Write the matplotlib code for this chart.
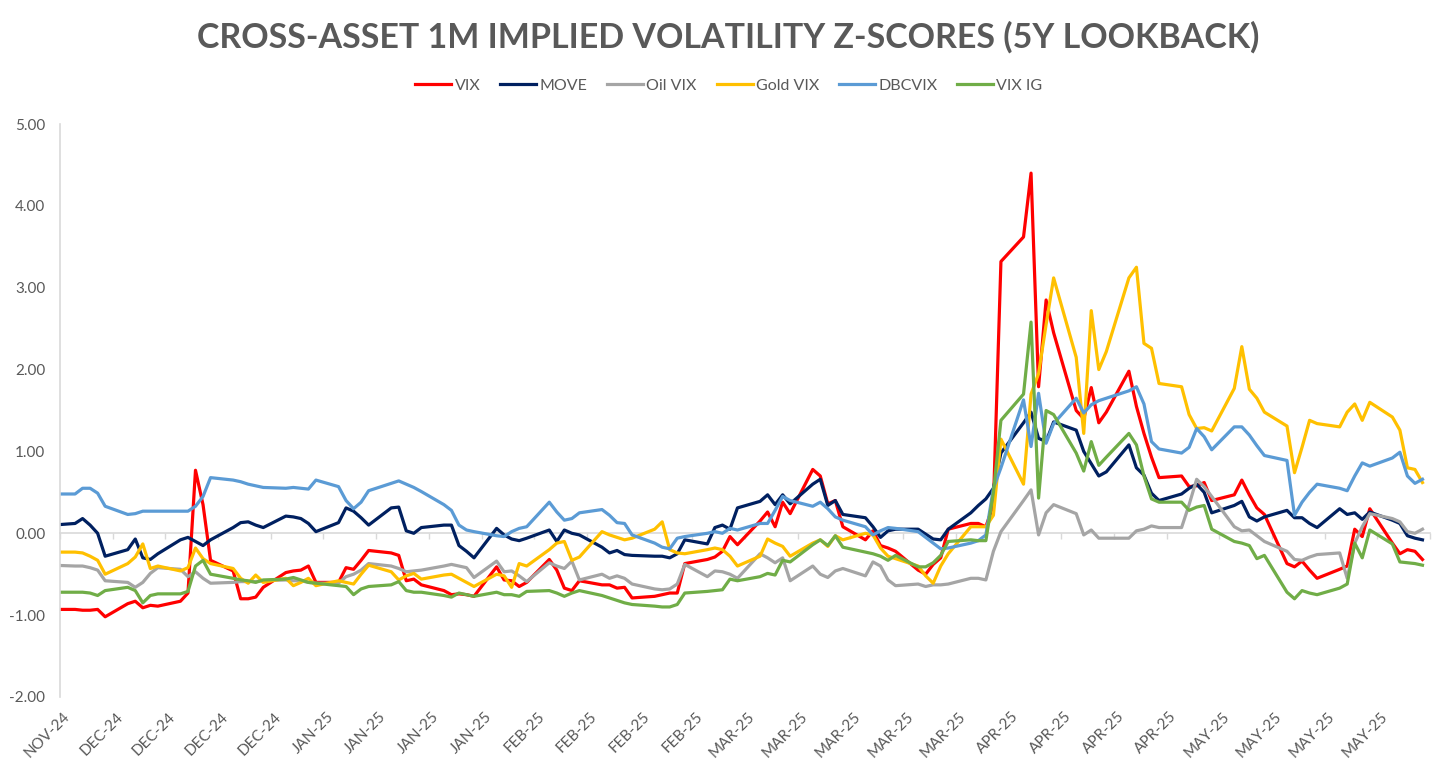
import matplotlib
matplotlib.use('Agg')
import matplotlib.pyplot as plt
import matplotlib.transforms as mtransforms
import numpy as np
import pandas as pd

# weekday observations, 29 Nov 2024 to 30 May 2025 (one list entry per weekday)
dates = pd.bdate_range('2024-11-29', '2025-05-30')

# x axis: weekly marks starting Saturday 30 Nov
tick_dates = pd.date_range('2024-11-30', periods=27, freq='7D')
tick_labels = (['NOV-24'] + ['DEC-24'] * 4 + ['JAN-25'] * 4 + ['FEB-25'] * 4
               + ['MAR-25'] * 5 + ['APR-25'] * 4 + ['MAY-25'] * 4 + [''])

vix = [-0.93,
       -0.93, -0.94, -0.94, -0.93, -1.02,
       -0.86, -0.83, -0.91, -0.88, -0.89,
       -0.83, -0.73, 0.77, 0.35, -0.33,
       -0.46, -0.80, -0.80, -0.78, -0.66,
       -0.48, -0.46, -0.45, -0.40, -0.60,
       -0.60, -0.42, -0.44, -0.33, -0.21,
       -0.24, -0.27, -0.58, -0.56, -0.63,
       -0.70, -0.75, -0.74, -0.75, -0.77,
       -0.41, -0.57, -0.58, -0.65, -0.60,
       -0.32, -0.45, -0.67, -0.70, -0.58,
       -0.63, -0.63, -0.67, -0.66, -0.79,
       -0.77, -0.75, -0.73, -0.73, -0.37,
       -0.32, -0.29, -0.22, -0.04, -0.14,
       0.15, 0.26, 0.08, 0.38, 0.24,
       0.78, 0.70, 0.36, 0.40, 0.08,
       -0.08, 0.03, -0.15, -0.18, -0.22,
       -0.45, -0.50, -0.38, -0.30, 0.05,
       0.12, 0.12, 0.08, 0.35, 3.32,
       3.62, 4.40, 1.79, 2.85, 2.45,
       1.50, 1.40, 1.78, 1.35, 1.48,
       1.98, 1.55, 1.22, 0.93, 0.68,
       0.70, 0.57, 0.58, 0.62, 0.40,
       0.47, 0.65, 0.47, 0.31, 0.23,
       -0.37, -0.41, -0.34, -0.45, -0.55,
       -0.44, -0.40, 0.05, -0.04, 0.30,
       -0.12, -0.25, -0.20, -0.22, -0.32]

move = [0.10,
        0.12, 0.18, 0.10, 0.00, -0.28,
        -0.20, -0.07, -0.30, -0.32, -0.25,
        -0.08, -0.05, -0.10, -0.15, -0.08,
        0.07, 0.13, 0.14, 0.10, 0.07,
        0.21, 0.20, 0.18, 0.12, 0.02,
        0.13, 0.31, 0.27, 0.19, 0.10,
        0.31, 0.32, 0.03, 0.00, 0.07,
        0.10, 0.10, -0.15, -0.22, -0.30,
        0.06, -0.02, -0.07, -0.09, -0.06,
        0.04, -0.10, 0.04, 0.00, -0.02,
        -0.17, -0.24, -0.21, -0.26, -0.27,
        -0.28, -0.28, -0.30, -0.25, -0.08,
        -0.13, 0.07, 0.10, 0.05, 0.31,
        0.39, 0.47, 0.35, 0.47, 0.36,
        0.60, 0.66, 0.34, 0.40, 0.23,
        0.19, 0.08, -0.05, 0.03, 0.05,
        0.05, -0.01, -0.07, -0.08, 0.05,
        0.25, 0.34, 0.42, 0.55, 0.98,
        1.35, 1.48, 1.16, 1.12, 1.36,
        1.26, 1.00, 0.85, 0.70, 0.75,
        1.08, 0.80, 0.71, 0.49, 0.40,
        0.48, 0.55, 0.60, 0.50, 0.25,
        0.34, 0.39, 0.20, 0.15, 0.20,
        0.28, 0.19, 0.19, 0.12, 0.07,
        0.30, 0.23, 0.25, 0.17, 0.26,
        0.16, 0.12, -0.03, -0.06, -0.08]

oil_vix = [-0.39,
           -0.40, -0.40, -0.42, -0.45, -0.58,
           -0.60, -0.66, -0.60, -0.49, -0.42,
           -0.44, -0.53, -0.47, -0.55, -0.61,
           -0.60, -0.59, -0.59, -0.59, -0.58,
           -0.57, -0.58, -0.58, -0.60, -0.61,
           -0.61, -0.53, -0.50, -0.45, -0.37,
           -0.40, -0.43, -0.47, -0.46, -0.45,
           -0.40, -0.38, -0.40, -0.42, -0.54,
           -0.34, -0.47, -0.46, -0.52, -0.59,
           -0.36, -0.40, -0.43, -0.34, -0.57,
           -0.50, -0.55, -0.52, -0.55, -0.62,
           -0.68, -0.69, -0.68, -0.62, -0.38,
           -0.53, -0.46, -0.47, -0.50, -0.55,
           -0.25, -0.30, -0.36, -0.30, -0.58,
           -0.40, -0.50, -0.54, -0.46, -0.43,
           -0.52, -0.35, -0.40, -0.57, -0.64,
           -0.62, -0.65, -0.63, -0.63, -0.62,
           -0.55, -0.55, -0.57, -0.22, 0.02,
           0.40, 0.53, -0.02, 0.25, 0.35,
           0.24, -0.02, 0.04, -0.06, -0.06,
           -0.06, 0.03, 0.05, 0.09, 0.07,
           0.07, 0.35, 0.66, 0.57, 0.45,
           0.08, 0.03, 0.04, -0.03, -0.10,
           -0.22, -0.32, -0.33, -0.29, -0.26,
           -0.24, -0.55, -0.12, 0.08, 0.24,
           0.18, 0.14, 0.02, 0.00, 0.05]

gold_vix = [-0.23,
            -0.23, -0.24, -0.28, -0.33, -0.50,
            -0.37, -0.29, -0.13, -0.43, -0.40,
            -0.46, -0.42, -0.18, -0.31, -0.37,
            -0.43, -0.55, -0.61, -0.51, -0.60,
            -0.55, -0.64, -0.60, -0.55, -0.64,
            -0.58, -0.60, -0.62, -0.50, -0.39,
            -0.47, -0.57, -0.52, -0.49, -0.56,
            -0.51, -0.50, -0.55, -0.60, -0.65,
            -0.50, -0.52, -0.66, -0.37, -0.40,
            -0.20, -0.12, -0.10, -0.33, -0.29,
            0.02, -0.02, -0.05, -0.08, -0.06,
            0.05, 0.14, -0.20, -0.24, -0.25,
            -0.20, -0.18, -0.20, -0.28, -0.40,
            -0.28, -0.07, -0.12, -0.16, -0.28,
            -0.12, -0.08, -0.16, -0.03, -0.08,
            0.00, -0.02, -0.18, -0.28, -0.31,
            -0.40, -0.52, -0.61, -0.40, -0.25,
            0.08, 0.08, 0.08, 0.22, 1.15,
            0.60, 1.70, 1.95, 2.55, 3.12,
            2.15, 1.22, 2.72, 2.00, 2.22,
            3.12, 3.25, 2.32, 2.26, 1.83,
            1.79, 1.45, 1.28, 1.29, 1.25,
            1.77, 2.28, 1.76, 1.65, 1.48,
            1.31, 0.74, 1.05, 1.38, 1.34,
            1.30, 1.48, 1.58, 1.38, 1.60,
            1.42, 1.26, 0.80, 0.78, 0.62]

dbcvix = [0.48,
          0.48, 0.55, 0.55, 0.49, 0.33,
          0.23, 0.24, 0.27, 0.27, 0.27,
          0.27, 0.27, 0.33, 0.45, 0.68,
          0.65, 0.63, 0.60, 0.58, 0.56,
          0.55, 0.56, 0.55, 0.54, 0.65,
          0.57, 0.40, 0.30, 0.38, 0.52,
          0.61, 0.64, 0.60, 0.56, 0.51,
          0.35, 0.28, 0.10, 0.04, 0.02,
          -0.03, -0.04, 0.02, 0.06, 0.08,
          0.38, 0.26, 0.16, 0.18, 0.25,
          0.29, 0.22, 0.13, 0.12, -0.02,
          -0.12, -0.17, -0.19, -0.06, -0.04,
          0.00, 0.02, 0.00, 0.06, 0.04,
          0.12, 0.12, 0.28, 0.45, 0.40,
          0.33, 0.38, 0.30, 0.20, 0.16,
          0.08, -0.02, 0.03, 0.07, 0.06,
          0.02, -0.05, -0.12, -0.19, -0.18,
          -0.12, -0.09, -0.02, 0.55, 0.80,
          1.63, 1.06, 1.71, 1.10, 1.34,
          1.65, 1.47, 1.57, 1.62, 1.65,
          1.74, 1.79, 1.58, 1.12, 1.03,
          0.98, 1.05, 1.28, 1.18, 1.02,
          1.30, 1.30, 1.20, 1.07, 0.95,
          0.89, 0.22, 0.38, 0.50, 0.60,
          0.55, 0.52, 0.70, 0.86, 0.82,
          0.92, 0.99, 0.70, 0.61, 0.66]

vix_ig = [-0.72,
          -0.72, -0.72, -0.73, -0.76, -0.70,
          -0.66, -0.70, -0.85, -0.76, -0.74,
          -0.74, -0.71, -0.40, -0.33, -0.50,
          -0.55, -0.57, -0.58, -0.60, -0.57,
          -0.56, -0.54, -0.57, -0.60, -0.61,
          -0.64, -0.65, -0.75, -0.68, -0.65,
          -0.63, -0.59, -0.70, -0.72, -0.72,
          -0.76, -0.78, -0.73, -0.75, -0.77,
          -0.72, -0.75, -0.75, -0.77, -0.71,
          -0.70, -0.73, -0.77, -0.73, -0.70,
          -0.76, -0.79, -0.82, -0.85, -0.87,
          -0.89, -0.90, -0.90, -0.87, -0.73,
          -0.71, -0.70, -0.69, -0.56, -0.58,
          -0.53, -0.49, -0.51, -0.33, -0.35,
          -0.14, -0.08, -0.15, -0.03, -0.17,
          -0.23, -0.25, -0.28, -0.33, -0.27,
          -0.41, -0.41, -0.36, -0.27, -0.10,
          -0.08, -0.09, -0.09, 0.50, 1.38,
          1.70, 2.58, 0.43, 1.50, 1.45,
          0.98, 0.76, 1.12, 0.83, 0.93,
          1.22, 1.08, 0.70, 0.42, 0.38,
          0.38, 0.28, 0.32, 0.34, 0.05,
          -0.10, -0.12, -0.15, -0.31, -0.27,
          -0.72, -0.80, -0.70, -0.73, -0.75,
          -0.67, -0.62, -0.12, -0.30, 0.04,
          -0.13, -0.35, -0.36, -0.37, -0.39]

series_names = ['VIX', 'MOVE', 'Oil VIX', 'Gold VIX', 'DBCVIX', 'VIX IG']
series_values = [vix, move, oil_vix, gold_vix, dbcvix, vix_ig]
series_colors = ['#FF0000', '#002060', '#A5A5A5', '#FFC000', '#5B9BD5', '#70AD47']

y_ticks = [-2, -1, 0, 1, 2, 3, 4, 5]

text_grey = '#595959'
axis_grey = '#D9D9D9'
plt.rcParams['font.family'] = ['Lato', 'DejaVu Sans']

fig = plt.figure(figsize=(14.56, 7.72), dpi=100)
ax = fig.add_axes([60 / 1456, 1 - 697 / 772, 1370 / 1456, 573 / 772])

for name, vals, col in zip(series_names, series_values, series_colors):
    ax.plot(dates, vals, color=col, lw=2.3, label=name, solid_joinstyle='round')

ax.set_xlim(tick_dates[0], tick_dates[-1])
ax.set_ylim(-2, 5)

# y axis
ax.set_yticks(y_ticks)
ax.set_yticklabels([f'{v:.2f}' for v in y_ticks])
ax.tick_params(axis='y', length=0, pad=10.5, labelsize=11, labelcolor=text_grey)

# x labels at the bottom, no marks
ax.set_xticks(tick_dates)
ax.set_xticklabels(tick_labels, rotation=45, ha='right', rotation_mode='anchor')
ax.tick_params(axis='x', length=0, pad=9, labelsize=11, labelcolor=text_grey)
shift = mtransforms.ScaledTranslation(3 / 100, 0, fig.dpi_scale_trans)
for lbl in ax.get_xticklabels():
    lbl.set_transform(lbl.get_transform() + shift)

for s in ['top', 'right', 'bottom']:
    ax.spines[s].set_visible(False)
ax.spines['left'].set_color(axis_grey)
ax.spines['left'].set_linewidth(1.2)

# horizontal axis line crossing at zero, with small weekly marks
zero_axis = ax.secondary_xaxis(2 / 7)
zero_axis.set_xticks(tick_dates)
zero_axis.set_xticklabels([])
zero_axis.tick_params(axis='x', direction='out', length=4, color=axis_grey, width=1)
zero_axis.spines['bottom'].set_color(axis_grey)
zero_axis.spines['bottom'].set_linewidth(1.2)
zero_axis.set_zorder(0)

fig.text(0.5, 1 - 37 / 772, 'CROSS-ASSET 1M IMPLIED VOLATILITY Z-SCORES (5Y LOOKBACK)',
         ha='center', va='center', fontsize=24.5, fontweight='bold', color=text_grey)

fig.legend(loc='center', bbox_to_anchor=(729 / 1456, 1 - 86 / 772), ncol=6,
           frameon=False, fontsize=11.5, labelcolor=text_grey, handlelength=2.25,
           handletextpad=0.2, columnspacing=1.25)

fig.savefig('out.png', dpi=100)
